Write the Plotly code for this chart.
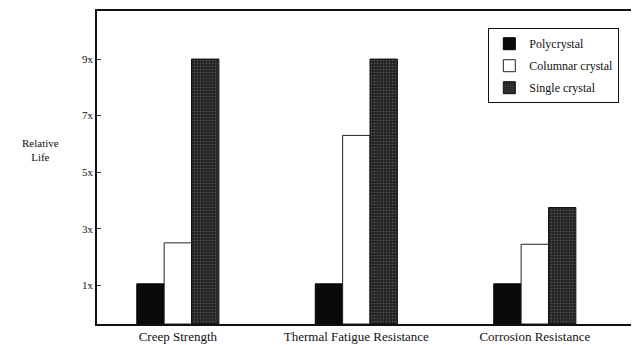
import plotly.graph_objects as go

categories = ["Creep Strength", "Thermal Fatigue Resistance", "Corrosion Resistance"]
polycrystal = [1.05, 1.05, 1.05]
columnar = [2.5, 6.3, 2.45]
single = [9.0, 9.0, 3.75]
tick_vals = [1, 3, 5, 7, 9]
tick_text = ["1x", "3x", "5x", "7x", "9x"]

BASE = -0.37
font = "Liberation Serif, Times New Roman, serif"

def lengths(vals):
    return [v - BASE for v in vals]

fig = go.Figure()
fig.add_trace(go.Bar(name="Polycrystal", x=categories, y=lengths(polycrystal), base=BASE,
                     legendgroup="a",
                     marker=dict(color="#0a0a0a", line=dict(color="#000", width=1))))
fig.add_trace(go.Bar(name="Columnar crystal", x=categories, y=lengths(columnar), base=BASE,
                     legendgroup="b",
                     marker=dict(color="white", line=dict(color="#222", width=1))))
fig.add_trace(go.Bar(name="Single crystal", x=categories, y=lengths(single), base=BASE,
                     legendgroup="c",
                     marker=dict(color="#2b2b2b", line=dict(color="#111", width=1),
                                 pattern=dict(shape=".", bgcolor="#262626", fgcolor="#8a8a8a",
                                              size=3, solidity=0.2, fillmode="overlay"))))

fig.update_layout(
    width=631, height=337,
    margin=dict(l=89, r=1, t=2, b=20),
    paper_bgcolor="white", plot_bgcolor="white",
    barmode="group", bargap=0.54, bargroupgap=0,
    font=dict(family=font, color="#111", size=11),
    showlegend=True,
    legend=dict(x=0.726, y=0.945, xanchor="left", yanchor="top",
                bordercolor="#111", borderwidth=1, bgcolor="white",
                font=dict(family=font, size=12), itemwidth=30,
                tracegroupgap=3),
    xaxis=dict(range=[-0.453, 2.567], showline=True, linecolor="#111", linewidth=1.5,
               mirror=True, ticks="", tickfont=dict(family=font, size=13, color="#111"),
               showgrid=False),
    yaxis=dict(range=[BASE, 10.7], showline=True, linecolor="#111", linewidth=1.5,
               mirror=True, tickvals=tick_vals, ticktext=tick_text, ticks="inside",
               ticklen=4, tickcolor="#333", tickfont=dict(family=font, size=11, color="#111"),
               showgrid=False, zeroline=False),
)
fig.add_annotation(text="Relative<br>Life", xref="paper", yref="paper", x=-0.105, y=0.556,
                   showarrow=False, font=dict(family=font, size=11, color="#111"),
                   xanchor="center", yanchor="middle")
fig.write_html("out.html")
